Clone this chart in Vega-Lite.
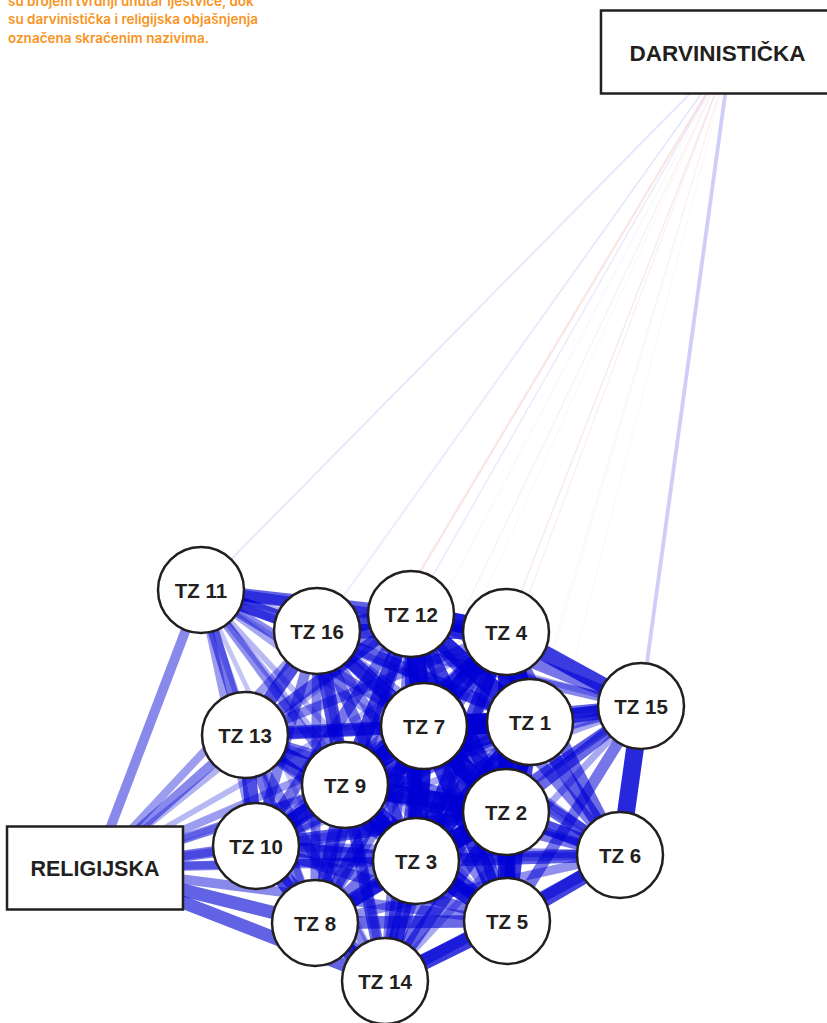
{
  "$schema": "https://vega.github.io/schema/vega-lite/v6.json",
  "width": 827,
  "height": 1023,
  "padding": 0,
  "autosize": {"type": "none"},
  "background": "white",
  "config": {"view": {"stroke": null}},
  "datasets": {
    "nodes": [
      {"id": "TZ 1", "kind": "tz", "x": 530, "y": 722},
      {"id": "TZ 2", "kind": "tz", "x": 506, "y": 812},
      {"id": "TZ 3", "kind": "tz", "x": 416, "y": 861},
      {"id": "TZ 4", "kind": "tz", "x": 506, "y": 632},
      {"id": "TZ 5", "kind": "tz", "x": 507, "y": 921},
      {"id": "TZ 6", "kind": "tz", "x": 620, "y": 855},
      {"id": "TZ 7", "kind": "tz", "x": 424, "y": 726},
      {"id": "TZ 8", "kind": "tz", "x": 315, "y": 923},
      {"id": "TZ 9", "kind": "tz", "x": 345, "y": 785},
      {"id": "TZ 10", "kind": "tz", "x": 256, "y": 846},
      {"id": "TZ 11", "kind": "tz", "x": 201, "y": 590},
      {"id": "TZ 12", "kind": "tz", "x": 411, "y": 614},
      {"id": "TZ 13", "kind": "tz", "x": 245, "y": 735},
      {"id": "TZ 14", "kind": "tz", "x": 385, "y": 981},
      {"id": "TZ 15", "kind": "tz", "x": 641, "y": 706},
      {"id": "TZ 16", "kind": "tz", "x": 317, "y": 631},
      {"id": "DARVINISTIČKA", "kind": "box", "x": 731, "y": 52},
      {"id": "RELIGIJSKA", "kind": "box", "x": 95, "y": 868}
    ],
    "note": [
      {"x": 8, "y": 5.5, "lines": ["su brojem tvrdnji unutar ljestvice, dok", "su darvinistička i religijska objašnjenja", "označena skraćenim nazivima."]}
    ],
    "edges": [
      {"source": "TZ 1", "target": "TZ 2", "strength": 0.62, "sign": "pos"},
      {"source": "TZ 1", "target": "TZ 3", "strength": 0.55, "sign": "pos"},
      {"source": "TZ 1", "target": "TZ 4", "strength": 0.60, "sign": "pos"},
      {"source": "TZ 1", "target": "TZ 5", "strength": 0.50, "sign": "pos"},
      {"source": "TZ 1", "target": "TZ 6", "strength": 0.42, "sign": "pos"},
      {"source": "TZ 1", "target": "TZ 7", "strength": 0.65, "sign": "pos"},
      {"source": "TZ 1", "target": "TZ 8", "strength": 0.35, "sign": "pos"},
      {"source": "TZ 1", "target": "TZ 9", "strength": 0.50, "sign": "pos"},
      {"source": "TZ 1", "target": "TZ 10", "strength": 0.38, "sign": "pos"},
      {"source": "TZ 1", "target": "TZ 11", "strength": 0.25, "sign": "pos"},
      {"source": "TZ 1", "target": "TZ 12", "strength": 0.55, "sign": "pos"},
      {"source": "TZ 1", "target": "TZ 13", "strength": 0.33, "sign": "pos"},
      {"source": "TZ 1", "target": "TZ 14", "strength": 0.36, "sign": "pos"},
      {"source": "TZ 1", "target": "TZ 15", "strength": 0.45, "sign": "pos"},
      {"source": "TZ 1", "target": "TZ 16", "strength": 0.40, "sign": "pos"},
      {"source": "TZ 2", "target": "TZ 3", "strength": 0.60, "sign": "pos"},
      {"source": "TZ 2", "target": "TZ 4", "strength": 0.50, "sign": "pos"},
      {"source": "TZ 2", "target": "TZ 5", "strength": 0.55, "sign": "pos"},
      {"source": "TZ 2", "target": "TZ 6", "strength": 0.45, "sign": "pos"},
      {"source": "TZ 2", "target": "TZ 7", "strength": 0.60, "sign": "pos"},
      {"source": "TZ 2", "target": "TZ 8", "strength": 0.38, "sign": "pos"},
      {"source": "TZ 2", "target": "TZ 9", "strength": 0.55, "sign": "pos"},
      {"source": "TZ 2", "target": "TZ 10", "strength": 0.40, "sign": "pos"},
      {"source": "TZ 2", "target": "TZ 11", "strength": 0.22, "sign": "pos"},
      {"source": "TZ 2", "target": "TZ 12", "strength": 0.48, "sign": "pos"},
      {"source": "TZ 2", "target": "TZ 13", "strength": 0.35, "sign": "pos"},
      {"source": "TZ 2", "target": "TZ 14", "strength": 0.40, "sign": "pos"},
      {"source": "TZ 2", "target": "TZ 15", "strength": 0.38, "sign": "pos"},
      {"source": "TZ 2", "target": "TZ 16", "strength": 0.36, "sign": "pos"},
      {"source": "TZ 3", "target": "TZ 4", "strength": 0.45, "sign": "pos"},
      {"source": "TZ 3", "target": "TZ 5", "strength": 0.55, "sign": "pos"},
      {"source": "TZ 3", "target": "TZ 6", "strength": 0.40, "sign": "pos"},
      {"source": "TZ 3", "target": "TZ 7", "strength": 0.58, "sign": "pos"},
      {"source": "TZ 3", "target": "TZ 8", "strength": 0.45, "sign": "pos"},
      {"source": "TZ 3", "target": "TZ 9", "strength": 0.55, "sign": "pos"},
      {"source": "TZ 3", "target": "TZ 10", "strength": 0.45, "sign": "pos"},
      {"source": "TZ 3", "target": "TZ 11", "strength": 0.20, "sign": "pos"},
      {"source": "TZ 3", "target": "TZ 12", "strength": 0.45, "sign": "pos"},
      {"source": "TZ 3", "target": "TZ 13", "strength": 0.36, "sign": "pos"},
      {"source": "TZ 3", "target": "TZ 14", "strength": 0.45, "sign": "pos"},
      {"source": "TZ 3", "target": "TZ 15", "strength": 0.30, "sign": "pos"},
      {"source": "TZ 3", "target": "TZ 16", "strength": 0.35, "sign": "pos"},
      {"source": "TZ 4", "target": "TZ 5", "strength": 0.42, "sign": "pos"},
      {"source": "TZ 4", "target": "TZ 6", "strength": 0.38, "sign": "pos"},
      {"source": "TZ 4", "target": "TZ 7", "strength": 0.55, "sign": "pos"},
      {"source": "TZ 4", "target": "TZ 8", "strength": 0.30, "sign": "pos"},
      {"source": "TZ 4", "target": "TZ 9", "strength": 0.45, "sign": "pos"},
      {"source": "TZ 4", "target": "TZ 10", "strength": 0.32, "sign": "pos"},
      {"source": "TZ 4", "target": "TZ 11", "strength": 0.35, "sign": "pos"},
      {"source": "TZ 4", "target": "TZ 12", "strength": 0.58, "sign": "pos"},
      {"source": "TZ 4", "target": "TZ 13", "strength": 0.30, "sign": "pos"},
      {"source": "TZ 4", "target": "TZ 14", "strength": 0.32, "sign": "pos"},
      {"source": "TZ 4", "target": "TZ 15", "strength": 0.50, "sign": "pos"},
      {"source": "TZ 4", "target": "TZ 16", "strength": 0.45, "sign": "pos"},
      {"source": "TZ 5", "target": "TZ 6", "strength": 0.48, "sign": "pos"},
      {"source": "TZ 5", "target": "TZ 7", "strength": 0.50, "sign": "pos"},
      {"source": "TZ 5", "target": "TZ 8", "strength": 0.38, "sign": "pos"},
      {"source": "TZ 5", "target": "TZ 9", "strength": 0.45, "sign": "pos"},
      {"source": "TZ 5", "target": "TZ 10", "strength": 0.35, "sign": "pos"},
      {"source": "TZ 5", "target": "TZ 11", "strength": 0.18, "sign": "pos"},
      {"source": "TZ 5", "target": "TZ 12", "strength": 0.40, "sign": "pos"},
      {"source": "TZ 5", "target": "TZ 13", "strength": 0.30, "sign": "pos"},
      {"source": "TZ 5", "target": "TZ 14", "strength": 0.50, "sign": "pos"},
      {"source": "TZ 5", "target": "TZ 15", "strength": 0.35, "sign": "pos"},
      {"source": "TZ 5", "target": "TZ 16", "strength": 0.30, "sign": "pos"},
      {"source": "TZ 6", "target": "TZ 7", "strength": 0.40, "sign": "pos"},
      {"source": "TZ 6", "target": "TZ 8", "strength": 0.28, "sign": "pos"},
      {"source": "TZ 6", "target": "TZ 9", "strength": 0.35, "sign": "pos"},
      {"source": "TZ 6", "target": "TZ 10", "strength": 0.28, "sign": "pos"},
      {"source": "TZ 6", "target": "TZ 11", "strength": 0.15, "sign": "pos"},
      {"source": "TZ 6", "target": "TZ 12", "strength": 0.33, "sign": "pos"},
      {"source": "TZ 6", "target": "TZ 13", "strength": 0.25, "sign": "pos"},
      {"source": "TZ 6", "target": "TZ 14", "strength": 0.35, "sign": "pos"},
      {"source": "TZ 6", "target": "TZ 15", "strength": 0.55, "sign": "pos"},
      {"source": "TZ 6", "target": "TZ 16", "strength": 0.25, "sign": "pos"},
      {"source": "TZ 7", "target": "TZ 8", "strength": 0.40, "sign": "pos"},
      {"source": "TZ 7", "target": "TZ 9", "strength": 0.60, "sign": "pos"},
      {"source": "TZ 7", "target": "TZ 10", "strength": 0.42, "sign": "pos"},
      {"source": "TZ 7", "target": "TZ 11", "strength": 0.30, "sign": "pos"},
      {"source": "TZ 7", "target": "TZ 12", "strength": 0.58, "sign": "pos"},
      {"source": "TZ 7", "target": "TZ 13", "strength": 0.42, "sign": "pos"},
      {"source": "TZ 7", "target": "TZ 14", "strength": 0.38, "sign": "pos"},
      {"source": "TZ 7", "target": "TZ 15", "strength": 0.40, "sign": "pos"},
      {"source": "TZ 7", "target": "TZ 16", "strength": 0.45, "sign": "pos"},
      {"source": "TZ 8", "target": "TZ 9", "strength": 0.42, "sign": "pos"},
      {"source": "TZ 8", "target": "TZ 10", "strength": 0.45, "sign": "pos"},
      {"source": "TZ 8", "target": "TZ 11", "strength": 0.20, "sign": "pos"},
      {"source": "TZ 8", "target": "TZ 12", "strength": 0.32, "sign": "pos"},
      {"source": "TZ 8", "target": "TZ 13", "strength": 0.35, "sign": "pos"},
      {"source": "TZ 8", "target": "TZ 14", "strength": 0.50, "sign": "pos"},
      {"source": "TZ 8", "target": "TZ 15", "strength": 0.22, "sign": "pos"},
      {"source": "TZ 8", "target": "TZ 16", "strength": 0.30, "sign": "pos"},
      {"source": "TZ 9", "target": "TZ 10", "strength": 0.50, "sign": "pos"},
      {"source": "TZ 9", "target": "TZ 11", "strength": 0.28, "sign": "pos"},
      {"source": "TZ 9", "target": "TZ 12", "strength": 0.48, "sign": "pos"},
      {"source": "TZ 9", "target": "TZ 13", "strength": 0.48, "sign": "pos"},
      {"source": "TZ 9", "target": "TZ 14", "strength": 0.38, "sign": "pos"},
      {"source": "TZ 9", "target": "TZ 15", "strength": 0.30, "sign": "pos"},
      {"source": "TZ 9", "target": "TZ 16", "strength": 0.45, "sign": "pos"},
      {"source": "TZ 10", "target": "TZ 11", "strength": 0.25, "sign": "pos"},
      {"source": "TZ 10", "target": "TZ 12", "strength": 0.35, "sign": "pos"},
      {"source": "TZ 10", "target": "TZ 13", "strength": 0.45, "sign": "pos"},
      {"source": "TZ 10", "target": "TZ 14", "strength": 0.38, "sign": "pos"},
      {"source": "TZ 10", "target": "TZ 15", "strength": 0.22, "sign": "pos"},
      {"source": "TZ 10", "target": "TZ 16", "strength": 0.32, "sign": "pos"},
      {"source": "TZ 11", "target": "TZ 12", "strength": 0.40, "sign": "pos"},
      {"source": "TZ 11", "target": "TZ 13", "strength": 0.35, "sign": "pos"},
      {"source": "TZ 11", "target": "TZ 14", "strength": 0.15, "sign": "pos"},
      {"source": "TZ 11", "target": "TZ 15", "strength": 0.20, "sign": "pos"},
      {"source": "TZ 11", "target": "TZ 16", "strength": 0.45, "sign": "pos"},
      {"source": "TZ 12", "target": "TZ 13", "strength": 0.38, "sign": "pos"},
      {"source": "TZ 12", "target": "TZ 14", "strength": 0.30, "sign": "pos"},
      {"source": "TZ 12", "target": "TZ 15", "strength": 0.35, "sign": "pos"},
      {"source": "TZ 12", "target": "TZ 16", "strength": 0.50, "sign": "pos"},
      {"source": "TZ 13", "target": "TZ 14", "strength": 0.30, "sign": "pos"},
      {"source": "TZ 13", "target": "TZ 15", "strength": 0.20, "sign": "pos"},
      {"source": "TZ 13", "target": "TZ 16", "strength": 0.45, "sign": "pos"},
      {"source": "TZ 14", "target": "TZ 15", "strength": 0.22, "sign": "pos"},
      {"source": "TZ 14", "target": "TZ 16", "strength": 0.25, "sign": "pos"},
      {"source": "TZ 15", "target": "TZ 16", "strength": 0.30, "sign": "pos"},
      {"source": "RELIGIJSKA", "target": "TZ 1", "strength": 0.20, "sign": "pos"},
      {"source": "RELIGIJSKA", "target": "TZ 2", "strength": 0.25, "sign": "pos"},
      {"source": "RELIGIJSKA", "target": "TZ 3", "strength": 0.30, "sign": "pos"},
      {"source": "RELIGIJSKA", "target": "TZ 4", "strength": 0.18, "sign": "pos"},
      {"source": "RELIGIJSKA", "target": "TZ 5", "strength": 0.30, "sign": "pos"},
      {"source": "RELIGIJSKA", "target": "TZ 6", "strength": 0.25, "sign": "pos"},
      {"source": "RELIGIJSKA", "target": "TZ 7", "strength": 0.25, "sign": "pos"},
      {"source": "RELIGIJSKA", "target": "TZ 8", "strength": 0.40, "sign": "pos"},
      {"source": "RELIGIJSKA", "target": "TZ 9", "strength": 0.30, "sign": "pos"},
      {"source": "RELIGIJSKA", "target": "TZ 10", "strength": 0.35, "sign": "pos"},
      {"source": "RELIGIJSKA", "target": "TZ 11", "strength": 0.30, "sign": "pos"},
      {"source": "RELIGIJSKA", "target": "TZ 12", "strength": 0.20, "sign": "pos"},
      {"source": "RELIGIJSKA", "target": "TZ 13", "strength": 0.30, "sign": "pos"},
      {"source": "RELIGIJSKA", "target": "TZ 14", "strength": 0.40, "sign": "pos"},
      {"source": "RELIGIJSKA", "target": "TZ 15", "strength": 0.12, "sign": "pos"},
      {"source": "RELIGIJSKA", "target": "TZ 16", "strength": 0.25, "sign": "pos"},
      {"source": "DARVINISTIČKA", "target": "TZ 1", "strength": 0.03, "sign": "neg"},
      {"source": "DARVINISTIČKA", "target": "TZ 2", "strength": 0.03, "sign": "neg"},
      {"source": "DARVINISTIČKA", "target": "TZ 3", "strength": 0.04, "sign": "neg"},
      {"source": "DARVINISTIČKA", "target": "TZ 4", "strength": 0.03, "sign": "pos"},
      {"source": "DARVINISTIČKA", "target": "TZ 5", "strength": 0.03, "sign": "neg"},
      {"source": "DARVINISTIČKA", "target": "TZ 6", "strength": 0.02, "sign": "pos"},
      {"source": "DARVINISTIČKA", "target": "TZ 7", "strength": 0.03, "sign": "neg"},
      {"source": "DARVINISTIČKA", "target": "TZ 8", "strength": 0.04, "sign": "neg"},
      {"source": "DARVINISTIČKA", "target": "TZ 9", "strength": 0.03, "sign": "pos"},
      {"source": "DARVINISTIČKA", "target": "TZ 10", "strength": 0.07, "sign": "neg"},
      {"source": "DARVINISTIČKA", "target": "TZ 11", "strength": 0.06, "sign": "pos"},
      {"source": "DARVINISTIČKA", "target": "TZ 12", "strength": 0.05, "sign": "pos"},
      {"source": "DARVINISTIČKA", "target": "TZ 13", "strength": 0.05, "sign": "pos"},
      {"source": "DARVINISTIČKA", "target": "TZ 14", "strength": 0.04, "sign": "neg"},
      {"source": "DARVINISTIČKA", "target": "TZ 15", "strength": 0.12, "sign": "pos"},
      {"source": "DARVINISTIČKA", "target": "TZ 16", "strength": 0.03, "sign": "pos"}
    ]
  },
  "layer": [
    {
      "data": {"name": "edges"},
      "transform": [
        {"lookup": "source", "from": {"data": {"name": "nodes"}, "key": "id", "fields": ["x", "y"]}, "as": ["sx", "sy"]},
        {"lookup": "target", "from": {"data": {"name": "nodes"}, "key": "id", "fields": ["x", "y"]}, "as": ["tx", "ty"]}
      ],
      "mark": {"type": "rule", "strokeCap": "butt"},
      "encoding": {
        "x": {"field": "sx", "type": "quantitative", "scale": {"domain": [0, 827], "nice": false, "zero": false}, "axis": null},
        "y": {"field": "sy", "type": "quantitative", "scale": {"domain": [0, 1023], "nice": false, "zero": false, "reverse": true}, "axis": null},
        "x2": {"field": "tx"},
        "y2": {"field": "ty"},
        "color": {"field": "sign", "type": "nominal", "scale": {"domain": ["pos", "neg"], "range": ["#0000D5", "#D50000"]}, "legend": null},
        "strokeWidth": {"field": "strength", "type": "quantitative", "scale": {"domain": [0, 0.65], "range": [0, 21]}, "legend": null},
        "opacity": {"field": "strength", "type": "quantitative", "scale": {"domain": [0, 0.65], "range": [0, 1]}, "legend": null},
        "order": {"field": "strength", "type": "quantitative"}
      }
    },
    {
      "data": {"name": "nodes"},
      "transform": [{"filter": "datum.kind == 'tz'"}],
      "mark": {"type": "point", "shape": "circle", "filled": true, "fill": "white", "stroke": "#231f20", "strokeWidth": 2.5, "size": 7396, "opacity": 1},
      "encoding": {
        "x": {"field": "x", "type": "quantitative"},
        "y": {"field": "y", "type": "quantitative"}
      }
    },
    {
      "data": {"name": "nodes"},
      "transform": [{"filter": "datum.kind == 'box'"}],
      "mark": {"type": "point", "filled": true, "fill": "white", "stroke": "#231f20", "strokeWidth": 2.5, "size": 6889, "opacity": 1},
      "encoding": {
        "x": {"field": "x", "type": "quantitative"},
        "y": {"field": "y", "type": "quantitative"},
        "shape": {"field": "id", "type": "nominal", "scale": {"domain": ["DARVINISTIČKA", "RELIGIJSKA"], "range": ["M-3.133,-1H3.133V1H-3.133Z", "M-2.12,-1H2.12V1H-2.12Z"]}, "legend": null}
      }
    },
    {
      "data": {"name": "nodes"},
      "transform": [{"filter": "datum.kind == 'tz'"}],
      "mark": {"type": "text", "font": "Liberation Sans", "fontWeight": "bold", "fontSize": 20.5, "color": "#231f20", "baseline": "middle", "align": "center", "dy": 2},
      "encoding": {
        "x": {"field": "x", "type": "quantitative"},
        "y": {"field": "y", "type": "quantitative"},
        "text": {"field": "id", "type": "nominal"}
      }
    },
    {
      "data": {"name": "nodes"},
      "transform": [{"filter": "datum.id == 'RELIGIJSKA'"}],
      "mark": {"type": "text", "font": "Liberation Sans", "fontWeight": "bold", "fontSize": 21.5, "color": "#231f20", "baseline": "middle", "align": "center", "dy": 2},
      "encoding": {
        "x": {"field": "x", "type": "quantitative"},
        "y": {"field": "y", "type": "quantitative"},
        "text": {"field": "id", "type": "nominal"}
      }
    },
    {
      "data": {"name": "nodes"},
      "transform": [{"filter": "datum.id == 'DARVINISTIČKA'"}],
      "mark": {"type": "text", "font": "Liberation Sans", "fontWeight": "bold", "fontSize": 22.5, "color": "#231f20", "baseline": "middle", "align": "center", "dy": 2, "dx": -13.5},
      "encoding": {
        "x": {"field": "x", "type": "quantitative"},
        "y": {"field": "y", "type": "quantitative"},
        "text": {"field": "id", "type": "nominal"}
      }
    },
    {
      "data": {"name": "note"},
      "mark": {"type": "text", "font": "Inter", "fontWeight": 600, "fontSize": 13.5, "color": "#F7941D", "baseline": "alphabetic", "align": "left", "lineHeight": 18.5},
      "encoding": {
        "x": {"field": "x", "type": "quantitative"},
        "y": {"field": "y", "type": "quantitative"},
        "text": {"field": "lines", "type": "nominal"}
      }
    }
  ]
}
